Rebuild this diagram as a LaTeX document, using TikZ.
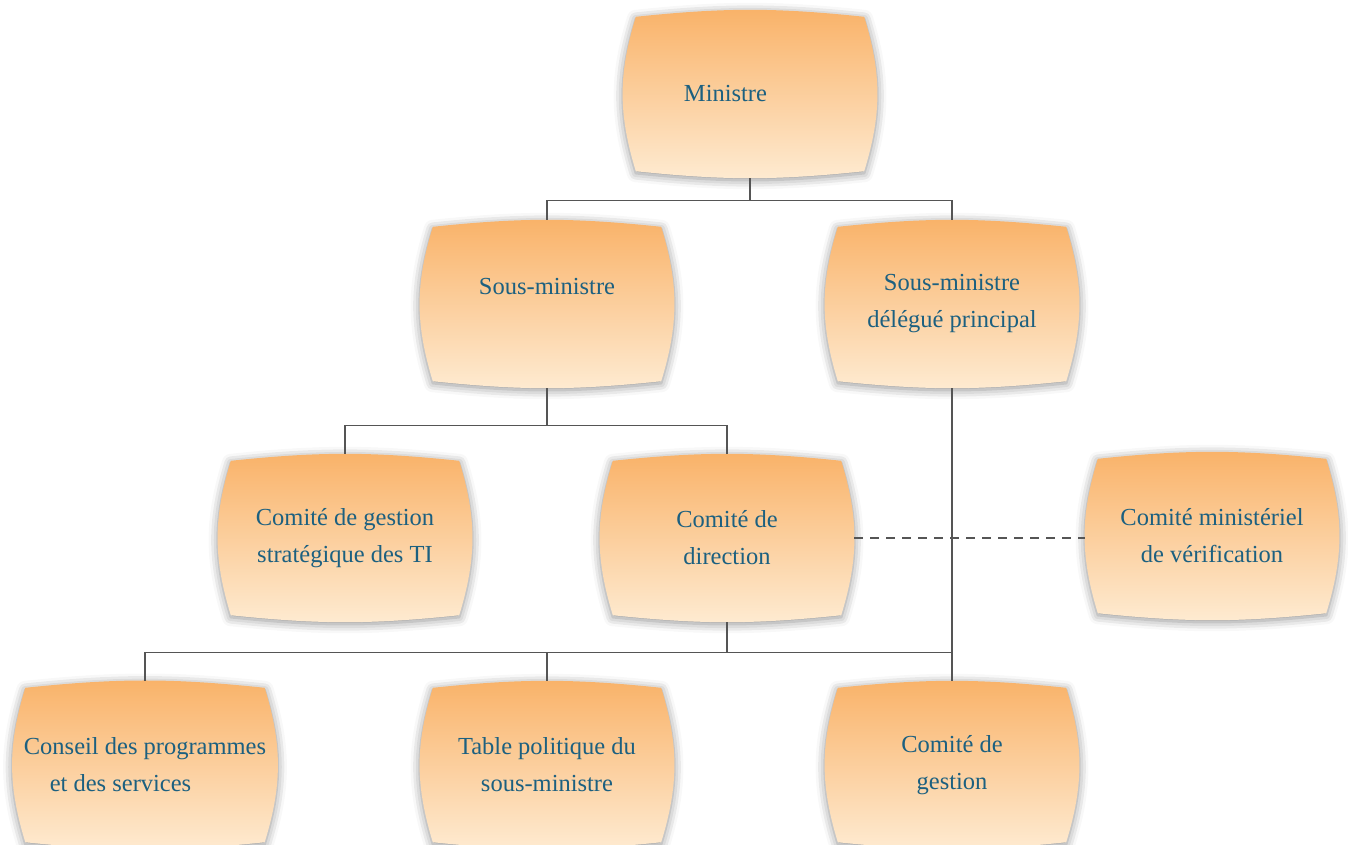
\documentclass[tikz,border=0pt]{standalone}
\usepackage{fontspec}
\setmainfont{Liberation Serif}
\usetikzlibrary{calc,backgrounds,shadows.blur}

\definecolor{boxtop}{RGB}{249,178,104}
\definecolor{boxbot}{RGB}{254,235,210}
\definecolor{boxtext}{RGB}{28,96,128}
\definecolor{linegray}{RGB}{85,85,85}

\begin{document}
\begin{tikzpicture}[
                x=1pt, y=-1pt,
                every node/.style={font=\fontsize{24.5}{37}\selectfont, text=boxtext},
                unit/.style={minimum width=254pt, minimum height=168pt, inner sep=0pt, align=center},
                cushion/.style={top color=boxtop, bottom color=boxbot,
                  blur shadow={shadow xshift=0pt, shadow yshift=-2pt, shadow blur radius=9pt, shadow opacity=45}},
                link/.style={draw=linegray, line width=1.4pt}
            ]
            \useasboundingbox (0,0) rectangle (1348,844);
            % Nodes
            \node[unit] (min) at (750,94) {Ministre\hspace*{2em}};
            \node[unit] (sm) at (547,304) {Sous-ministre\\[-12pt] \strut};
            \node[unit] (smd) at (952,304) {Sous-ministre\\délégué principal};
            \node[unit] (cgs) at (345,538) {Comité de gestion\\stratégique des TI};
            \node[unit] (cdir) at (727,538) {Comité de\\direction};
            \node[unit] (cmv) at (1212,536) {Comité ministériel\\de vérification};
            \node[unit, minimum width=265pt] (csp) at (145,765) {Conseil des programmes\\et des services\hspace*{2em}};
            \node[unit] (tps) at (547,765) {Table politique du\\sous-ministre};
            \node[unit] (cg) at (952,765) {Comité de\\gestion};
            % Boxes
            \begin{pgfonlayer}{background}
            \foreach \n in {min,sm,smd,cgs,cdir,cmv,csp,tps,cg}
              \path[cushion] ($(\n.north west)+(13pt,-7pt)$)
                to[bend left=6] ($(\n.north east)+(-13pt,-7pt)$)
                to[bend left=17] ($(\n.south east)+(-13pt,7pt)$)
                to[bend left=6] ($(\n.south west)+(13pt,7pt)$)
                to[bend left=17] ($(\n.north west)+(13pt,-7pt)$) -- cycle;
            \end{pgfonlayer}
            % Connectors
            \coordinate (j1) at ($(min.south)+(0,22)$);
            \coordinate (j2) at ($(sm.south)+(0,37)$);
            \coordinate (j3) at ($(cdir.south)+(0,30)$);
            \draw[link] (min.south) -- (j1) -| (sm.north);
            \draw[link] (j1) -| (smd.north);
            \draw[link] (sm.south) -- (j2) -| (cgs.north);
            \draw[link] (j2) -| (cdir.north);
            \draw[link] (cdir.south) -- (j3) -| (csp.north);
            \draw[link] (j3) -| (tps.north);
            \draw[link] (j3) -| (cg.north);
            \draw[link] (smd.south) -- (cg.north);
            \draw[link, dash pattern=on 9pt off 7pt] (cdir.east) -- (cdir.east -| cmv.west);
            
            \end{tikzpicture}
\end{document}
